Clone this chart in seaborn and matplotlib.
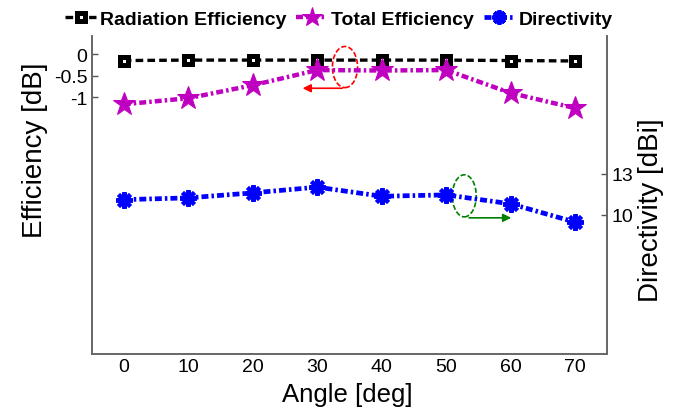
import numpy as np
import pandas as pd
import matplotlib
matplotlib.use('Agg')
import matplotlib.pyplot as plt
from matplotlib.patches import Ellipse
import seaborn as sns

sns.set_style('white')
plt.rcParams['font.family'] = ['Liberation Sans', 'DejaVu Sans']
plt.rcParams['lines.scale_dashes'] = False
plt.rcParams['text.color'] = 'black'
plt.rcParams['axes.labelcolor'] = 'black'
plt.rcParams['xtick.color'] = 'black'
plt.rcParams['ytick.color'] = 'black'

# ---------------------- данные ----------------------
angles = [0, 10, 20, 30, 40, 50, 60, 70]
rad_eff = [-0.15, -0.14, -0.14, -0.14, -0.14, -0.14, -0.15, -0.16]
total_eff = [-1.16, -1.02, -0.72, -0.37, -0.38, -0.37, -0.90, -1.25]
directivity = [11.1, 11.23, 11.6, 12.02, 11.35, 11.45, 10.79, 9.44]

left_ticks = [0, -0.5, -1]
left_tick_labels = ['0', '-0.5', '-1']
right_ticks = [10, 13]

df = pd.DataFrame({'Angle': angles, 'Rad': rad_eff, 'Tot': total_eff, 'Dir': directivity})

fig = plt.figure(figsize=(6.78, 4.14), dpi=100)
ax = fig.add_axes([0.135, 0.142, 0.761, 0.769])
ax2 = ax.twinx()

magenta = '#c000c0'
blue = '#0000ff'
dashdot = (0, (5, 2.2, 1.8, 2.2))

sns.lineplot(data=df, x='Angle', y='Rad', ax=ax, color='black', lw=2.4,
             linestyle=(0, (5.5, 3)), marker='s', markersize=6,
             markerfacecolor='white', markeredgecolor='black', markeredgewidth=3.6,
             label='Radiation Efficiency', legend=False)
sns.lineplot(data=df, x='Angle', y='Tot', ax=ax, color=magenta, lw=3.2,
             linestyle=dashdot, marker='*', markersize=17,
             markerfacecolor=magenta, markeredgecolor=magenta,
             label='Total Efficiency', legend=False)
sns.lineplot(data=df, x='Angle', y='Dir', ax=ax2, color=blue, lw=3.4,
             linestyle=dashdot, marker=(8, 2, 0), markersize=12,
             markeredgecolor=blue, markeredgewidth=2.9,
             label='Directivity', legend=False)

ax.set_xlim(-5, 75)
ax.set_ylim(-6.93, 0.42)
ax2.set_ylim(-0.29, 23.17)

ax.set_xticks(angles)
ax.set_yticks(left_ticks)
ax.set_yticklabels(left_tick_labels)
ax2.set_yticks(right_ticks)

for a in (ax, ax2):
    a.tick_params(direction='in', length=4, width=1, color='#555555',
                  labelcolor='black', labelsize=14, pad=3)
    a.spines['top'].set_visible(False)
    for s in a.spines.values():
        s.set_color('#666666')
        s.set_linewidth(1.2)
    a.grid(False)

ax.set_xlabel('Angle [deg]', fontsize=18.5)
ax.set_ylabel('Efficiency [dB]', fontsize=20)
ax2.set_ylabel('Directivity [dBi]', fontsize=20)
ax.xaxis.label.set_va('center')
ax.yaxis.label.set_va('center')
ax2.yaxis.label.set_va('center')
ax.xaxis.set_label_coords(0.495, -0.125)
ax.yaxis.set_label_coords(-0.11, 0.645)
ax2.yaxis.set_label_coords(1.084, 0.456)

# стрелки и эллипсы
ax.add_patch(Ellipse((34.3, -0.30), 3.9, 0.95, fill=False, ec='red', ls='--', lw=1.2))
ax.annotate('', xy=(27.3, -0.79), xytext=(34.3, -0.79),
            arrowprops=dict(arrowstyle='-|>', color='red', lw=1.2, mutation_scale=12))
ax2.add_patch(Ellipse((52.8, 11.38), 3.7, 3.1, fill=False, ec='green', ls='--', lw=1.2))
ax2.annotate('', xy=(60.5, 9.76), xytext=(53.1, 9.76),
             arrowprops=dict(arrowstyle='-|>', color='green', lw=1.2, mutation_scale=12))

h1, l1 = ax.get_legend_handles_labels()
h2, l2 = ax2.get_legend_handles_labels()
fig.legend(h1 + h2, l1 + l2, loc='center', bbox_to_anchor=(0.5, 0.952), ncol=3,
           frameon=False, prop={'weight': 'bold', 'size': 14}, handlelength=1.6,
           handletextpad=0.2, columnspacing=0.5, markerscale=0.85)

fig.savefig('out.png', dpi=100)
